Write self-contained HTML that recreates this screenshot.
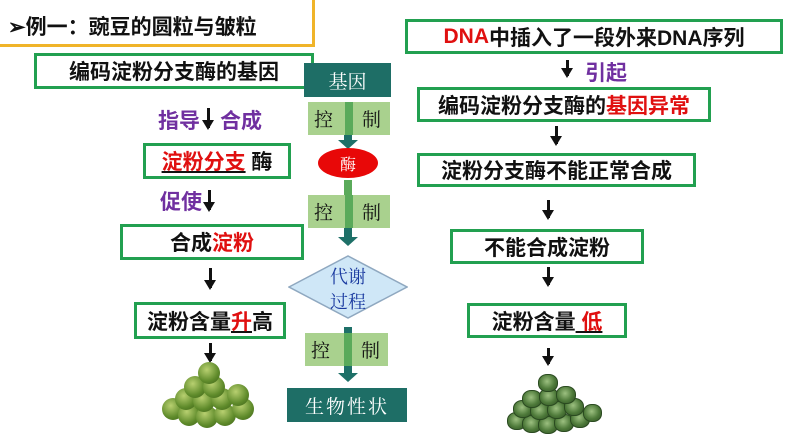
<!DOCTYPE html><html><head><meta charset="utf-8"><style>
body{margin:0;width:794px;height:447px;background:#fff;position:relative;overflow:hidden;font-family:"Liberation Sans","Noto Sans CJK SC",sans-serif}
.a{position:absolute}
.b{position:absolute;border:3px solid #22a050;box-sizing:border-box;display:flex;align-items:center;justify-content:center;font-weight:bold;font-size:21px;color:#111;white-space:nowrap}
.r{color:#e01010}.p{color:#7030a0}
.ar{position:absolute;width:3px;background:#111}
.ar:after{content:"";position:absolute;left:-5px;bottom:-2px;border-left:6.5px solid transparent;border-right:6.5px solid transparent;border-top:10px solid #111}
.k{position:absolute;background:#a9d18e;font-family:"Noto Serif CJK SC",serif;font-size:19px;color:#111}
.k span{position:absolute;top:3px}
.k i{position:absolute;left:37px;top:0;bottom:0;width:8px;background:#5aaa5a}
.ta{position:absolute;width:8px;background:#1e7068}
.ta:after{content:"";position:absolute;left:-6px;bottom:-8px;border-left:10px solid transparent;border-right:10px solid transparent;border-top:9px solid #1e7068}
.pea{position:absolute;border-radius:50%;background:radial-gradient(circle at 40% 35%,#b8d070,#5e8a2a 60%,#3c5e18)}
.wp{position:absolute;border-radius:45%;background:radial-gradient(circle at 45% 40%,#9cc080,#4e7a3a 55%,#2e4e22);border:1px solid #2a4a20}
</style></head><body>
<div class="a" style="left:-3px;top:-3px;width:318px;height:50px;border:3px solid #f0b429;box-sizing:border-box"></div>
<div class="a" style="left:8px;top:11px;font-size:21px;font-weight:bold;color:#111">➢例一：豌豆的圆粒与皱粒</div>

<div class="b" style="left:34px;top:53px;width:280px;height:36px">编码淀粉分支酶的基因</div>
<div class="a p" style="left:158px;top:105px;font-size:21px;font-weight:bold">指导</div>
<div class="ar" style="left:207px;top:108px;height:20px"></div>
<div class="a p" style="left:220px;top:105px;font-size:21px;font-weight:bold">合成</div>
<div class="b" style="left:143px;top:143px;width:148px;height:36px"><span class="r" style="text-decoration:underline;text-decoration-color:#111">淀粉分支</span>&nbsp;酶</div>
<div class="a p" style="left:160px;top:186px;font-size:21px;font-weight:bold">促使</div>
<div class="ar" style="left:208px;top:190px;height:20px"></div>
<div class="b" style="left:120px;top:224px;width:184px;height:36px">合成<span class="r">淀粉</span></div>
<div class="ar" style="left:209px;top:268px;height:20px"></div>
<div class="b" style="left:134px;top:302px;width:152px;height:37px">淀粉含量<span class="r" style="text-decoration:underline;text-decoration-color:#111">升</span>高</div>
<div class="ar" style="left:209px;top:343px;height:18px"></div>
<div class="pea" style="left:162px;top:398px;width:22px;height:22px"></div>
<div class="pea" style="left:178px;top:404px;width:22px;height:22px"></div>
<div class="pea" style="left:196px;top:406px;width:22px;height:22px"></div>
<div class="pea" style="left:214px;top:404px;width:22px;height:22px"></div>
<div class="pea" style="left:232px;top:398px;width:22px;height:22px"></div>
<div class="pea" style="left:175px;top:388px;width:22px;height:22px"></div>
<div class="pea" style="left:193px;top:390px;width:22px;height:22px"></div>
<div class="pea" style="left:211px;top:388px;width:22px;height:22px"></div>
<div class="pea" style="left:227px;top:384px;width:22px;height:22px"></div>
<div class="pea" style="left:184px;top:376px;width:22px;height:22px"></div>
<div class="pea" style="left:203px;top:376px;width:22px;height:22px"></div>
<div class="pea" style="left:198px;top:362px;width:22px;height:22px"></div>

<div class="a" style="left:304px;top:63px;width:87px;height:34px;background:#1e6e66;color:#fff;font-family:'Noto Serif CJK SC',serif;font-size:19px;display:flex;align-items:center;justify-content:center">基因</div>
<div class="k" style="left:308px;top:102px;width:82px;height:33px"><i></i><span style="left:6px">控</span><span style="left:54px">制</span></div>
<div class="ta" style="left:344px;top:135px;height:6px"></div>
<div class="a" style="left:318px;top:148px;width:60px;height:30px;border-radius:50%;background:#e80808;color:#fff;font-size:16px;display:flex;align-items:center;justify-content:center;font-family:'Noto Serif CJK SC',serif">酶</div>
<div class="a" style="left:344px;top:180px;width:8px;height:15px;background:#5aaa5a"></div>
<div class="k" style="left:308px;top:195px;width:82px;height:33px"><i></i><span style="left:6px">控</span><span style="left:54px">制</span></div>
<div class="ta" style="left:344px;top:228px;height:10px"></div>
<svg class="a" style="left:288px;top:255px" width="120" height="64"><polygon points="1,32 60,1 119,32 60,63" fill="#cfe7f7" stroke="#8fa8c0" stroke-width="1.5"/><text x="60" y="28" text-anchor="middle" font-size="18" fill="#1a3aa0" font-family="Noto Serif CJK SC,serif">代谢</text><text x="60" y="53" text-anchor="middle" font-size="18" fill="#1a3aa0" font-family="Noto Serif CJK SC,serif">过程</text></svg>
<div class="a" style="left:344px;top:327px;width:8px;height:6px;background:#1e7068"></div>
<div class="k" style="left:305px;top:333px;width:83px;height:33px"><i style="left:39px"></i><span style="left:6px">控</span><span style="left:56px">制</span></div>
<div class="ta" style="left:344px;top:366px;height:8px"></div>
<div class="a" style="left:287px;top:388px;width:120px;height:34px;background:#1e6e66;color:#fff;font-family:'Noto Serif CJK SC',serif;font-size:19px;display:flex;align-items:center;justify-content:center;letter-spacing:2px">生物性状</div>

<div class="b" style="left:405px;top:19px;width:378px;height:35px"><span class="r">DNA</span>中插入了一段外来DNA序列</div>
<div class="ar" style="left:566px;top:60px;height:16px"></div>
<div class="a p" style="left:585px;top:57px;font-size:21px;font-weight:bold">引起</div>
<div class="b" style="left:417px;top:87px;width:294px;height:35px">编码淀粉分支酶的<span class="r">基因异常</span></div>
<div class="ar" style="left:555px;top:126px;height:18px"></div>
<div class="b" style="left:417px;top:153px;width:279px;height:34px">淀粉分支酶不能正常合成</div>
<div class="ar" style="left:547px;top:200px;height:18px"></div>
<div class="b" style="left:450px;top:229px;width:194px;height:35px">不能合成淀粉</div>
<div class="ar" style="left:547px;top:267px;height:18px"></div>
<div class="b" style="left:467px;top:303px;width:160px;height:35px">淀粉含量<span class="r" style="text-decoration:underline;text-decoration-color:#111">&nbsp;低</span></div>
<div class="ar" style="left:547px;top:348px;height:16px"></div>
<div class="wp" style="left:507px;top:412px;width:18px;height:16px"></div>
<div class="wp" style="left:522px;top:415px;width:18px;height:16px"></div>
<div class="wp" style="left:538px;top:416px;width:18px;height:16px"></div>
<div class="wp" style="left:554px;top:414px;width:18px;height:16px"></div>
<div class="wp" style="left:570px;top:410px;width:18px;height:16px"></div>
<div class="wp" style="left:583px;top:404px;width:17px;height:16px"></div>
<div class="wp" style="left:513px;top:400px;width:18px;height:16px"></div>
<div class="wp" style="left:530px;top:402px;width:18px;height:16px"></div>
<div class="wp" style="left:547px;top:401px;width:18px;height:16px"></div>
<div class="wp" style="left:564px;top:398px;width:18px;height:16px"></div>
<div class="wp" style="left:522px;top:390px;width:18px;height:16px"></div>
<div class="wp" style="left:539px;top:388px;width:18px;height:16px"></div>
<div class="wp" style="left:556px;top:386px;width:18px;height:16px"></div>
<div class="wp" style="left:538px;top:374px;width:18px;height:16px"></div>
</body></html>
